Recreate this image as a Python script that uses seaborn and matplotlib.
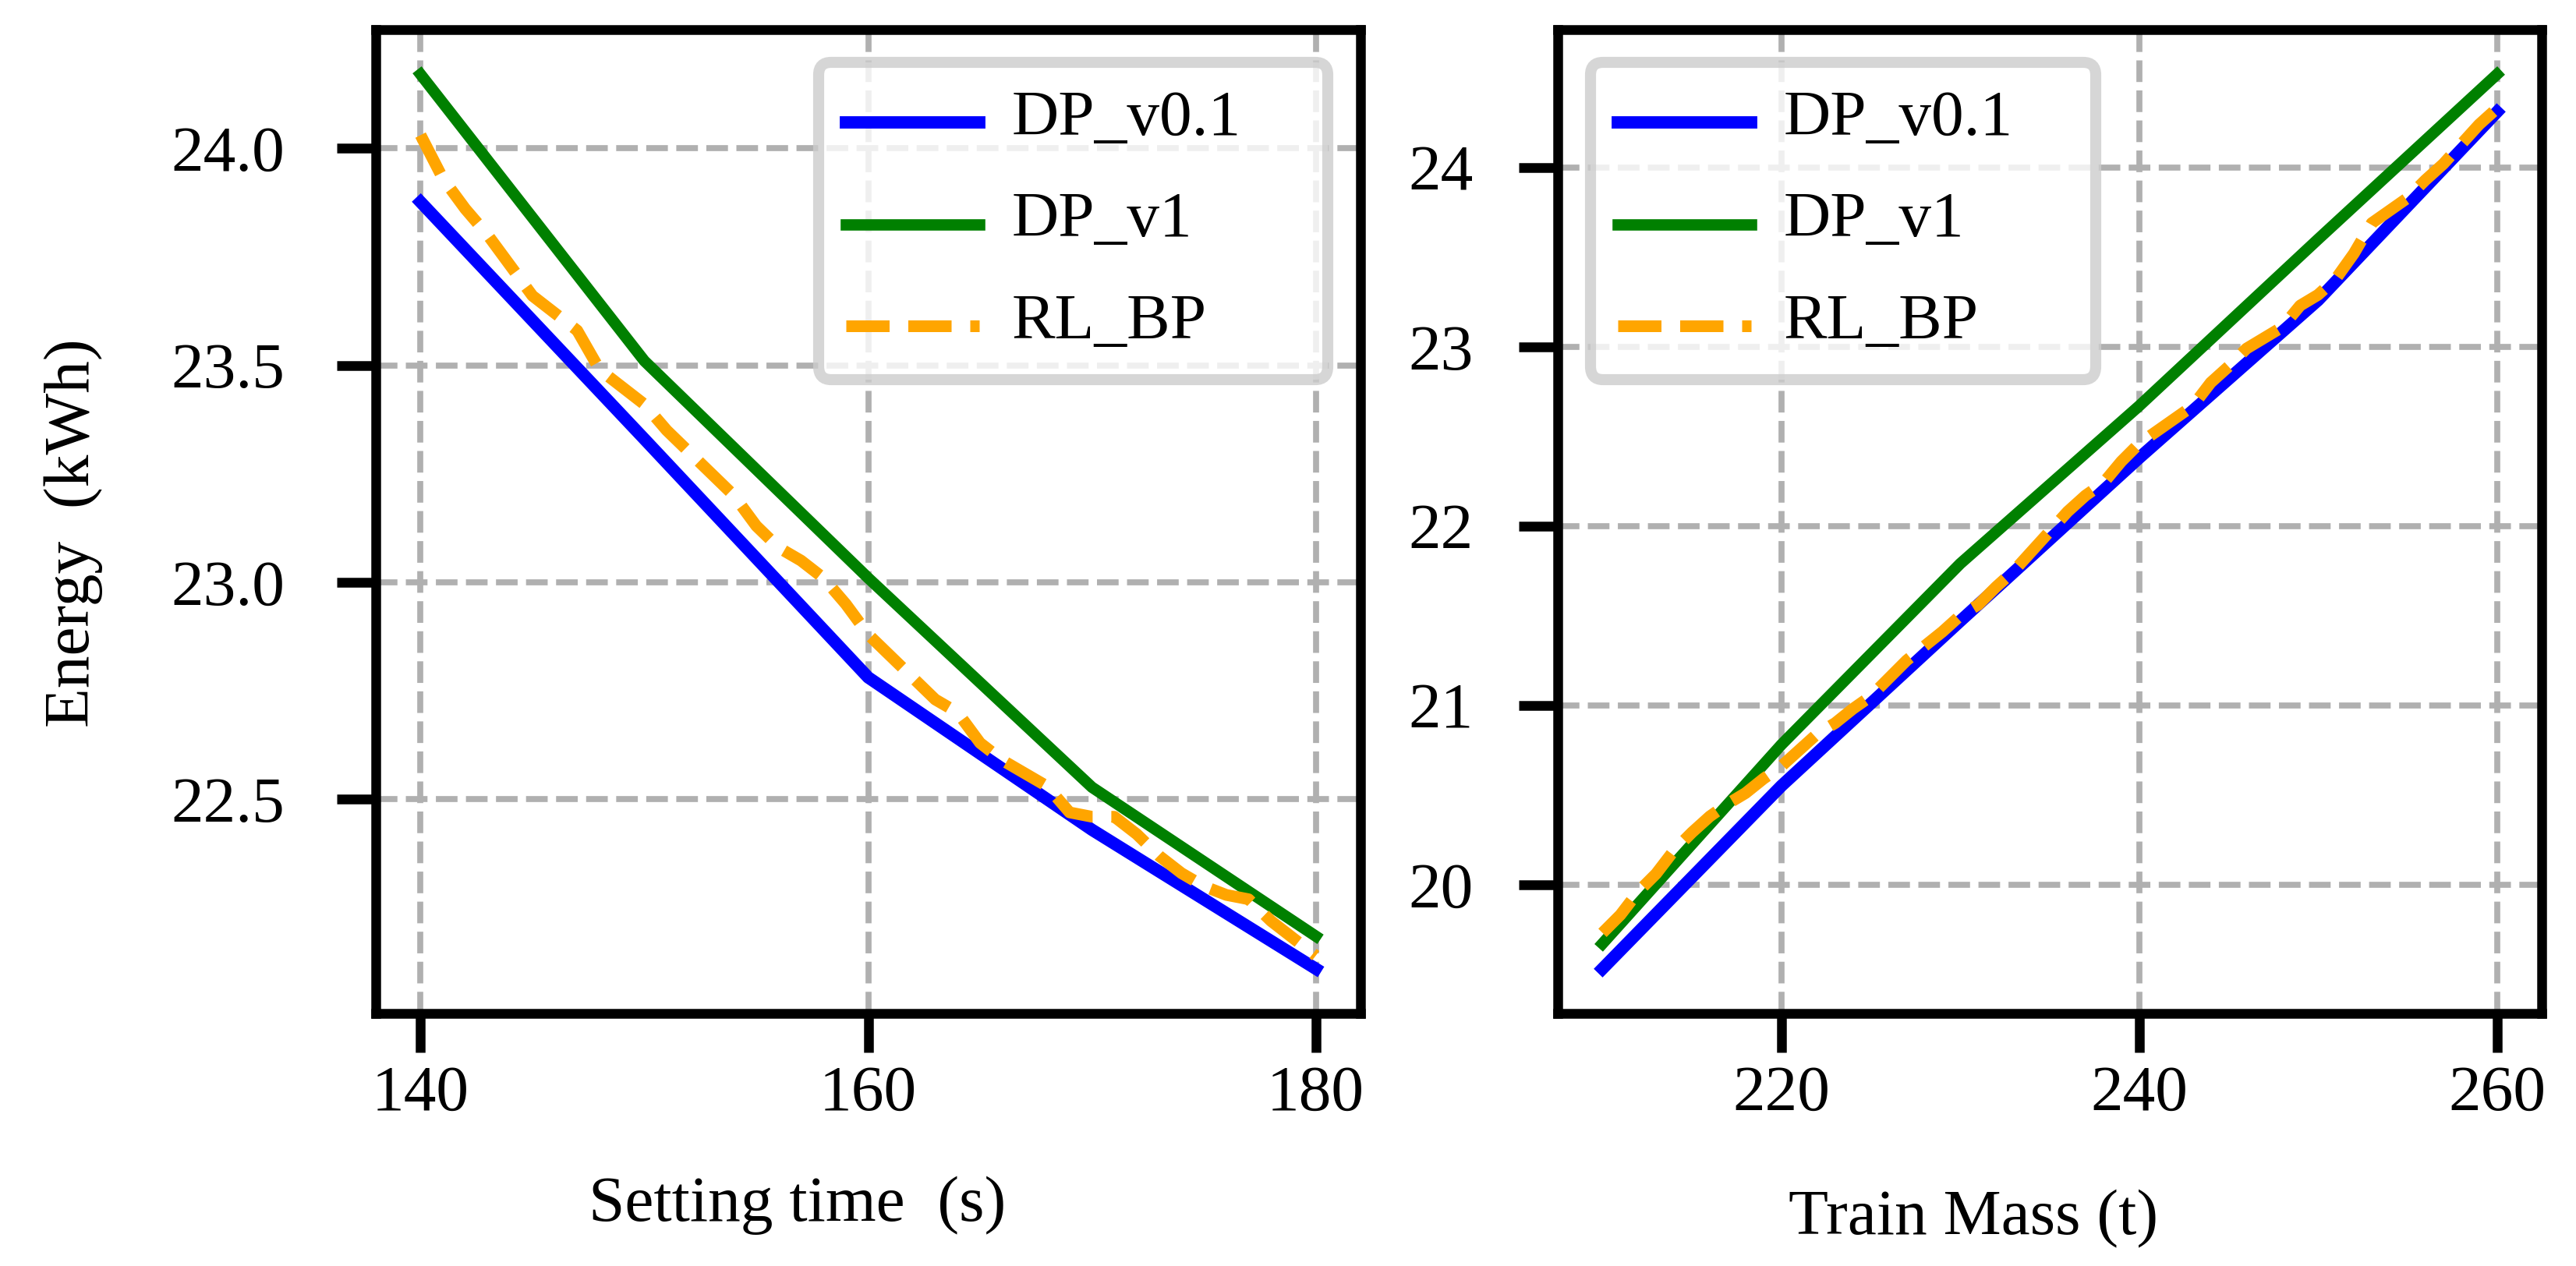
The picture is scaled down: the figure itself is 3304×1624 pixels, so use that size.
import numpy as np
import matplotlib
matplotlib.use('Agg')
import matplotlib.pyplot as plt
from matplotlib.lines import Line2D
from matplotlib.legend_handler import HandlerLine2D
from matplotlib.ticker import MultipleLocator
import seaborn as sns

# left panel: energy vs setting time
time_dp = [140, 150, 160, 170, 180]
time_dp01 = [23.876, 23.33, 22.781, 22.43, 22.11]
time_dp1 = [24.17, 23.51, 23.01, 22.528, 22.185]

time_rl = [140, 141, 142, 143, 144, 145, 146, 147, 148, 149, 150,
           151, 152, 153, 154, 155, 156, 157, 158, 159, 160,
           161, 162, 163, 164, 165, 166, 167, 168, 169, 170,
           171, 172, 173, 174, 175, 176, 177, 178, 179, 180]
time_rl_bp = [24.03, 23.93, 23.86, 23.80, 23.73, 23.66, 23.62, 23.58, 23.49, 23.45, 23.41,
              23.35, 23.30, 23.25, 23.20, 23.13, 23.08, 23.05, 23.01, 22.95, 22.88,
              22.83, 22.78, 22.73, 22.70, 22.63, 22.59, 22.56, 22.53, 22.47, 22.46,
              22.46, 22.42, 22.37, 22.33, 22.30, 22.28, 22.27, 22.22, 22.18, 22.14]

# right panel: energy vs train mass
mass_dp = [210, 220, 230, 240, 250, 260]
mass_dp01 = [19.53, 20.55, 21.47, 22.38, 23.26, 24.31]
mass_dp1 = [19.67, 20.78, 21.79, 22.67, 23.60, 24.52]

mass_rl = [210, 211, 212, 213, 214, 215, 216, 217, 218, 219, 220,
           221, 222, 223, 224, 225, 226, 227, 228, 229, 230,
           231, 232, 233, 234, 235, 236, 237, 238, 239, 240,
           241, 242, 243, 244, 245, 246, 247, 248, 249, 250,
           251, 252, 253, 254, 255, 256, 257, 258, 259, 260]
mass_rl_bp = [19.73, 19.83, 19.96, 20.06, 20.19, 20.29, 20.38, 20.45, 20.51, 20.59, 20.66,
              20.75, 20.84, 20.90, 20.98, 21.05, 21.15, 21.25, 21.33, 21.41, 21.50,
              21.56, 21.66, 21.75, 21.86, 21.97, 22.08, 22.17, 22.24, 22.36, 22.46,
              22.53, 22.60, 22.67, 22.80, 22.89, 22.99, 23.05, 23.11, 23.23, 23.29,
              23.38, 23.52, 23.69, 23.76, 23.83, 23.93, 24.02, 24.13, 24.24, 24.33]

sns.set_style('ticks', rc={'text.color': 'black', 'axes.labelcolor': 'black',
                           'xtick.color': 'black', 'ytick.color': 'black',
                           'axes.edgecolor': 'black'})
plt.rcParams['font.family'] = ['Liberation Serif', 'DejaVu Serif']


class LowLine(HandlerLine2D):
    # legend handles sit a bit lower in the original, closer to the text baseline
    def create_artists(self, legend, orig_handle, xdescent, ydescent, width,
                       height, fontsize, trans):
        arts = super().create_artists(legend, orig_handle, xdescent, ydescent,
                                      width, height, fontsize, trans)
        for a in arts:
            a.set_ydata(np.asarray(a.get_ydata()) - 3.2)
        return arts


W, H = 3304, 1624
fig = plt.figure(figsize=(W / 300, H / 300), dpi=300)
ax1 = fig.add_axes([482 / W, 324 / H, 1263 / W, 1262 / H])
ax2 = fig.add_axes([1998 / W, 324 / H, 1262 / W, 1262 / H])


def draw(ax, x_dp, y01, y1, x_rl, y_rl):
    sns.lineplot(x=x_dp, y=y01, ax=ax, color='#0000ff', linewidth=3.8,
                 solid_capstyle='projecting', label='DP_v0.1')
    sns.lineplot(x=x_dp, y=y1, ax=ax, color='#008000', linewidth=3.5,
                 solid_capstyle='projecting', label='DP_v1')
    sns.lineplot(x=x_rl, y=y_rl, ax=ax, color='orange', linewidth=3.6,
                 linestyle='--', label='RL_BP')
    ax.grid(True, color='#b0b0b0', linestyle=(0, (3.6, 1.4)), linewidth=1.85)
    ax.set_axisbelow(True)
    for sp in ax.spines.values():
        sp.set_visible(True)
        sp.set_color('black')
        sp.set_linewidth(3.0)
    ax.tick_params(axis='both', labelsize=20, length=12, width=3.0,
                   direction='out', color='black', labelcolor='black')
    ax.tick_params(axis='x', pad=4)
    ax.xaxis.set_major_locator(MultipleLocator(20))


draw(ax1, time_dp, time_dp01, time_dp1, time_rl, time_rl_bp)
draw(ax2, mass_dp, mass_dp01, mass_dp1, mass_rl, mass_rl_bp)

ax1.yaxis.set_major_locator(MultipleLocator(0.5))
ax2.yaxis.set_major_locator(MultipleLocator(1))
ax1.tick_params(axis='y', pad=16)
ax2.tick_params(axis='y', pad=14)

ax1.set_xlabel('Setting time  (s)', fontsize=20, color='black')
ax2.set_xlabel('Train Mass (t)', fontsize=20, color='black')
ax1.set_ylabel('Energy  (kWh)', fontsize=20, color='black')
ax1.xaxis.set_label_coords(0.428, -0.1656)
ax2.xaxis.set_label_coords(0.422, -0.179)
ax1.yaxis.set_label_coords(-0.277, 0.488)

leg_kw = dict(mode='expand', fontsize=20, handlelength=2.05, handletextpad=0.5,
              borderpad=0.42, labelspacing=0.65, borderaxespad=0.5, framealpha=0.8,
              handler_map={Line2D: LowLine()})
leg1 = ax1.legend(loc='upper right', bbox_to_anchor=(0.4165, 0, 0.5835, 1), **leg_kw)
leg2 = ax2.legend(loc='upper left', bbox_to_anchor=(0, 0, 0.58, 1), **leg_kw)
for leg in (leg1, leg2):
    leg.get_frame().set_linewidth(3.4)
    leg.get_frame().set_edgecolor('0.8')
    for t in leg.get_texts():
        t.set_color('black')

fig.savefig('out.png', dpi=300, facecolor='white')
